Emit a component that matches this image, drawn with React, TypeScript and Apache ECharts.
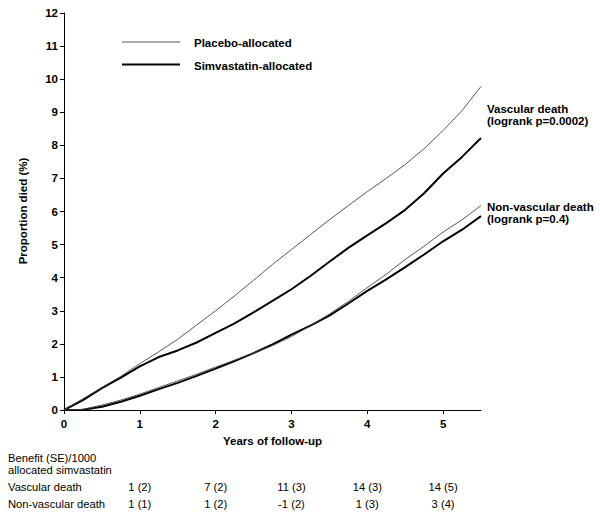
import React, { useEffect, useRef } from "react";
import * as echarts from "echarts";

const years = [0, 0.25, 0.5, 0.75, 1, 1.25, 1.5, 1.75, 2, 2.25, 2.5, 2.75, 3, 3.25, 3.5, 3.75, 4, 4.25, 4.5, 4.75, 5, 5.25, 5.5];
const vascularPlacebo = [0, 0.34, 0.68, 1.02, 1.4, 1.76, 2.14, 2.57, 3.0, 3.45, 3.92, 4.4, 4.85, 5.3, 5.75, 6.18, 6.6, 7.0, 7.42, 7.9, 8.45, 9.05, 9.78];
const vascularSimva = [0, 0.3, 0.66, 0.98, 1.32, 1.6, 1.8, 2.04, 2.33, 2.62, 2.95, 3.3, 3.65, 4.05, 4.48, 4.9, 5.28, 5.65, 6.05, 6.55, 7.15, 7.65, 8.22];
const nonVascularPlacebo = [0, 0.02, 0.15, 0.3, 0.48, 0.68, 0.88, 1.08, 1.3, 1.5, 1.72, 1.95, 2.22, 2.55, 2.9, 3.28, 3.7, 4.1, 4.55, 4.95, 5.38, 5.75, 6.18];
const nonVascularSimva = [0, 0.01, 0.1, 0.25, 0.43, 0.63, 0.82, 1.03, 1.25, 1.48, 1.72, 1.98, 2.28, 2.55, 2.85, 3.22, 3.6, 3.95, 4.32, 4.7, 5.1, 5.45, 5.86];

const xTicks = [0, 1, 2, 3, 4, 5];
const tableYears = [1, 2, 3, 4, 5];
const vascularBenefit = ["1 (2)", "7 (2)", "11 (3)", "14 (3)", "14 (5)"];
const nonVascularBenefit = ["1 (1)", "1 (2)", "-1 (2)", "1 (3)", "3 (4)"];

const FONT = '"Liberation Sans", Arial, Helvetica, sans-serif';

export default function App() {
  const ref = useRef<HTMLDivElement>(null);
  useEffect(() => {
    if (!ref.current) return;
    const chart = echarts.init(ref.current, undefined, { renderer: "svg" });
    const pair = (ys: number[]) => years.map((t, i) => [t, ys[i]]);
    const thin = { color: "#444", width: 0.9 };
    const thick = { color: "#000", width: 2 };
    const option: any = {
      animation: false,
      backgroundColor: "#fff",
      grid: { left: 64, right: 119, top: 13, bottom: 106, containLabel: false },
      xAxis: {
        type: "value",
        min: 0,
        max: 5.5,
        interval: 1,
        name: "Years of follow-up",
        nameLocation: "middle",
        nameGap: 25,
        nameTextStyle: { fontFamily: FONT, fontWeight: "bold", fontSize: 11.5, color: "#000" },
        axisLine: { show: true, lineStyle: { color: "#000", width: 1 } },
        axisTick: { show: true, length: 4, lineStyle: { color: "#000" }, customValues: xTicks },
        axisLabel: { fontFamily: FONT, fontWeight: "bold", fontSize: 11.5, color: "#000", margin: 8, customValues: xTicks },
        splitLine: { show: false },
      },
      yAxis: {
        type: "value",
        min: 0,
        max: 12,
        interval: 1,
        axisLine: { show: true, lineStyle: { color: "#000", width: 1 } },
        axisTick: { show: true, length: 4, lineStyle: { color: "#000" } },
        axisLabel: { fontFamily: FONT, fontWeight: "bold", fontSize: 11.5, color: "#000", margin: 6 },
        splitLine: { show: false },
      },
      series: [
        { name: "Placebo-allocated", type: "line", data: pair(vascularPlacebo), showSymbol: false, symbol: "none", lineStyle: thin, z: 3 },
        { name: "Simvastatin-allocated", type: "line", data: pair(vascularSimva), showSymbol: false, symbol: "none", lineStyle: thick, z: 2 },
        { name: "Placebo-allocated", type: "line", data: pair(nonVascularPlacebo), showSymbol: false, symbol: "none", lineStyle: thin, z: 3 },
        { name: "Simvastatin-allocated", type: "line", data: pair(nonVascularSimva), showSymbol: false, symbol: "none", lineStyle: thick, z: 2 },
      ],
    };
    chart.setOption(option);

    const txt = (text: string, x: number, y: number, opts: any = {}) => ({
      type: "text",
      x,
      y,
      rotation: opts.rotation || 0,
      style: {
        text,
        fill: "#000",
        font: `${opts.bold ? "bold " : ""}${opts.size || 11.5}px ${FONT}`,
        textAlign: opts.align || "left",
        textVerticalAlign: "middle",
      },
    });

    const lastX = years[years.length - 1];
    const labelX = (chart.convertToPixel({ xAxisIndex: 0 }, lastX) as number) + 6;
    const colX = tableYears.map((t) => chart.convertToPixel({ xAxisIndex: 0 }, t) as number);

    const graphic: any[] = [
      txt("Proportion died (%)", 23, 211, { bold: true, align: "center", rotation: Math.PI / 2 }),
      { type: "line", shape: { x1: 122, y1: 42, x2: 180, y2: 42 }, style: { stroke: "#444", lineWidth: 0.9 } },
      { type: "line", shape: { x1: 122, y1: 64.5, x2: 180, y2: 64.5 }, style: { stroke: "#000", lineWidth: 2 } },
      txt("Placebo-allocated", 194, 43, { bold: true }),
      txt("Simvastatin-allocated", 194, 66, { bold: true }),
      txt("Vascular death", labelX, 109, { bold: true }),
      txt("(logrank p=0.0002)", labelX, 121, { bold: true }),
      txt("Non-vascular death", labelX, 207, { bold: true }),
      txt("(logrank p=0.4)", labelX, 219, { bold: true }),
      txt("Benefit (SE)/1000", 8, 458, { size: 11.2 }),
      txt("allocated simvastatin", 8, 470, { size: 11.2 }),
      txt("Vascular death", 8, 487, { size: 11.2 }),
      txt("Non-vascular death", 8, 504, { size: 11.2 }),
    ];
    colX.forEach((x, i) => {
      graphic.push(txt(vascularBenefit[i], x, 487, { size: 11.2, align: "center" }));
      graphic.push(txt(nonVascularBenefit[i], x, 504, { size: 11.2, align: "center" }));
    });
    chart.setOption({ graphic });

    return () => chart.dispose();
  }, []);
  return <div ref={ref} style={{ position: "fixed", left: 0, top: 0, width: 600, height: 516, background: "#fff" }} />;
}
